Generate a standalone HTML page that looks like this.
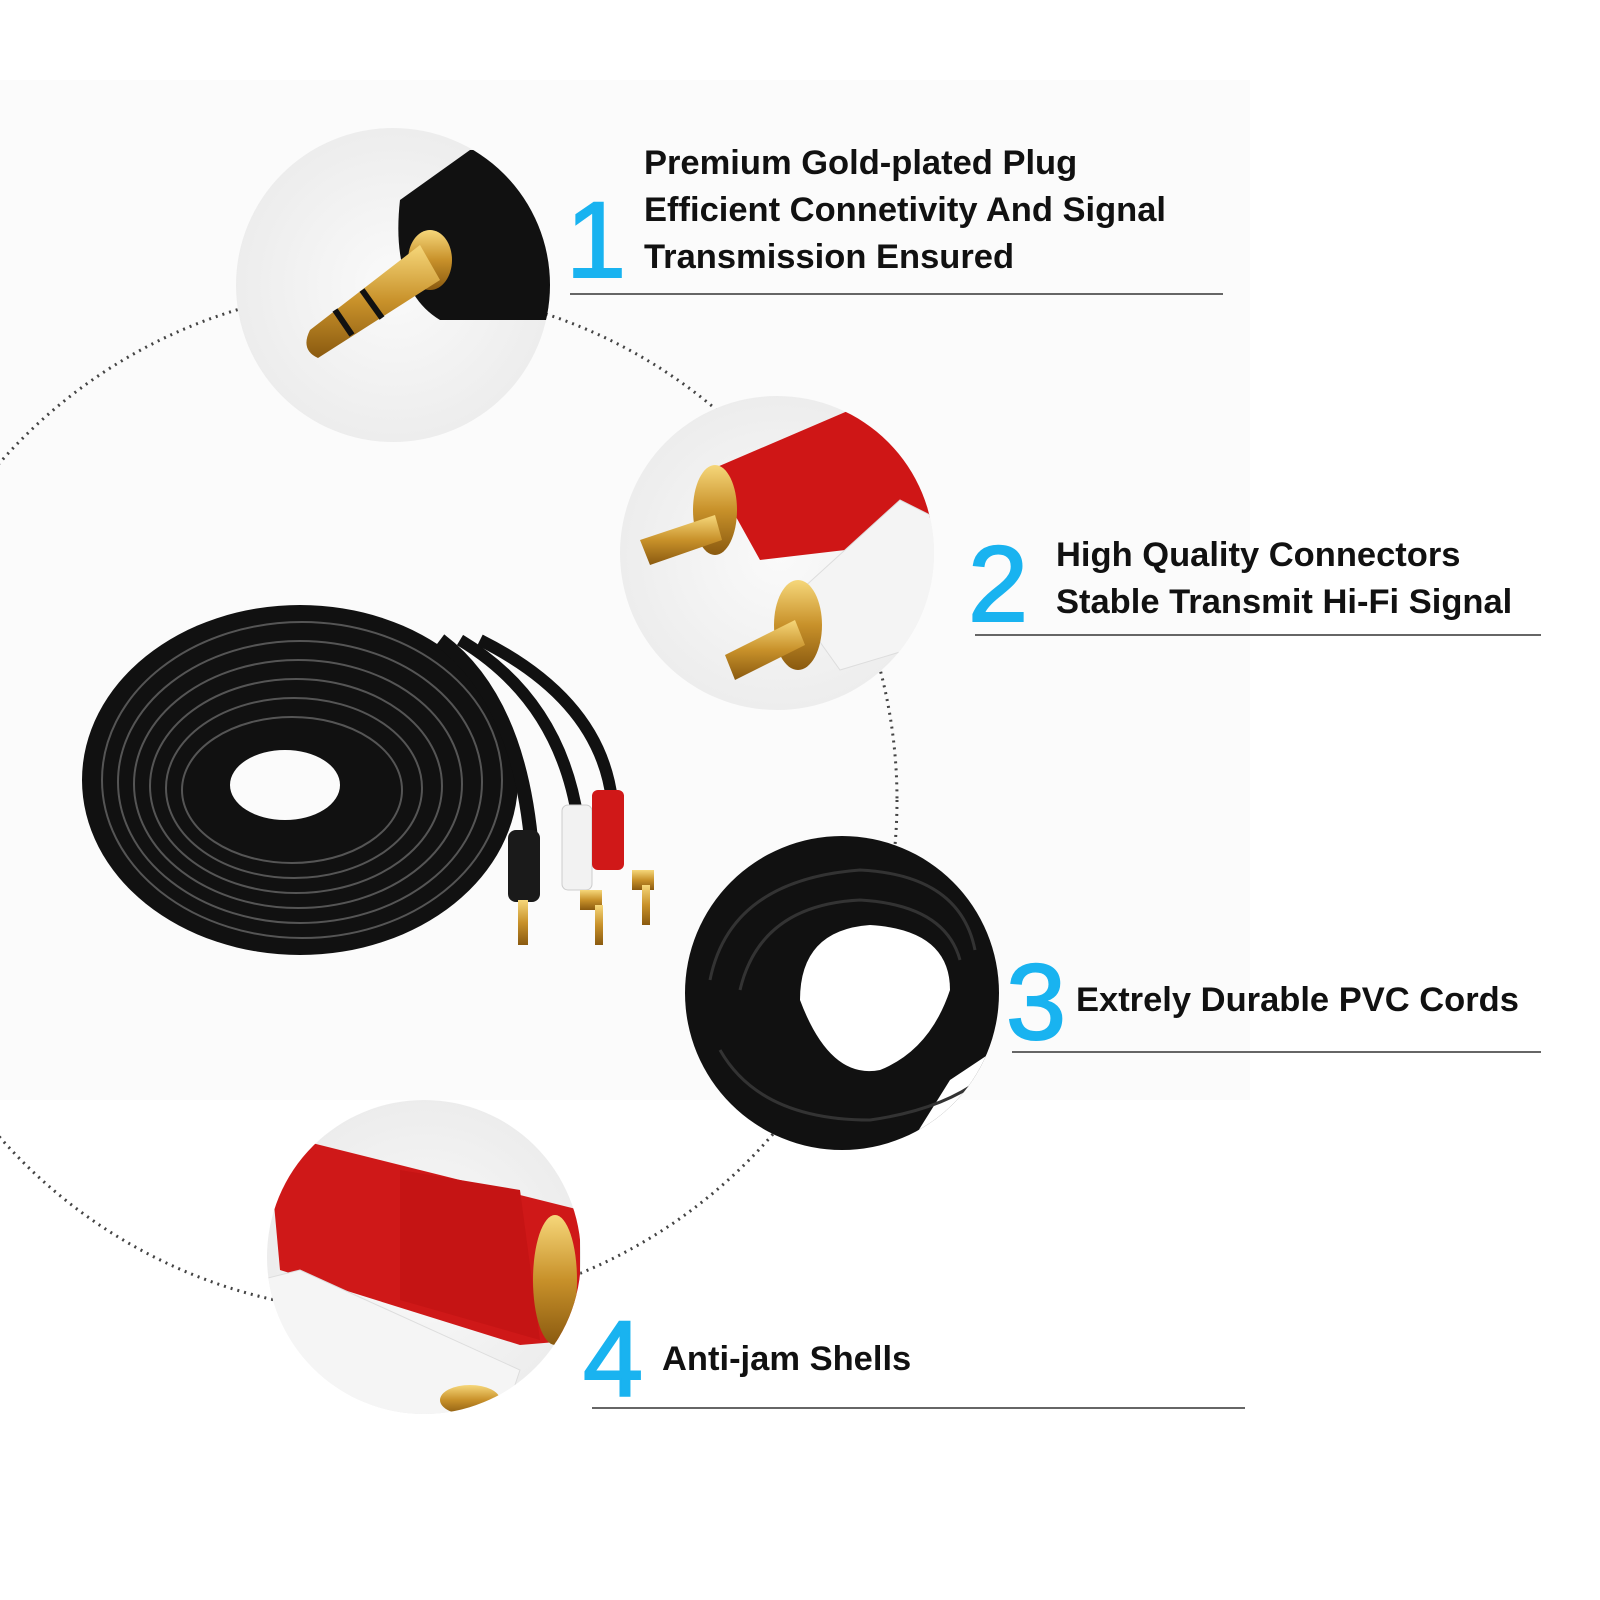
<!DOCTYPE html>
<html><head><meta charset="utf-8"><style>
html,body{margin:0;padding:0;background:#fff;}
.wrap{position:relative;width:1600px;height:1600px;overflow:hidden;background:#fff;font-family:"Liberation Sans",sans-serif;}
.t{position:absolute;font-weight:bold;font-size:34.5px;color:#111;line-height:47px;white-space:nowrap;}
.n{position:absolute;color:#19b3f0;font-size:108px;line-height:1;font-weight:normal;-webkit-text-stroke:2px #19b3f0;}
.l{position:absolute;height:2px;background:#666;}
</style></head><body><div class="wrap">
<svg width="1600" height="1600" style="position:absolute;left:0;top:0">
<defs>
<radialGradient id="bg1" cx="50%" cy="50%" r="50%"><stop offset="0" stop-color="#fafafa"/><stop offset="1" stop-color="#ececec"/></radialGradient>
<linearGradient id="gold" x1="0" y1="0" x2="0" y2="1"><stop offset="0" stop-color="#f6d77a"/><stop offset=".5" stop-color="#c8912a"/><stop offset="1" stop-color="#8a5a10"/></linearGradient>
<clipPath id="c1"><circle cx="393" cy="285" r="157"/></clipPath>
<clipPath id="c2"><circle cx="777" cy="553" r="157"/></clipPath>
<clipPath id="c3"><circle cx="842" cy="993" r="157"/></clipPath>
<clipPath id="c4"><circle cx="424" cy="1257" r="157"/></clipPath>
</defs>
<rect x="0" y="80" width="1250" height="1020" fill="#fbfbfb"/>
<circle cx="385" cy="800" r="512" fill="none" stroke="#444" stroke-width="3" stroke-dasharray="2 5"/>
<!-- coil -->
<ellipse cx="300" cy="780" rx="218" ry="175" fill="#111"/>
<g fill="none" stroke="#555" stroke-width="2">
<ellipse cx="302" cy="780" rx="200" ry="158"/>
<ellipse cx="300" cy="782" rx="182" ry="141"/>
<ellipse cx="298" cy="784" rx="164" ry="124"/>
<ellipse cx="296" cy="786" rx="146" ry="107"/>
<ellipse cx="294" cy="788" rx="128" ry="90"/>
<ellipse cx="292" cy="790" rx="110" ry="73"/>
</g>
<ellipse cx="285" cy="785" rx="55" ry="35" fill="#fbfbfb"/>
<g fill="none" stroke="#111">
<path d="M440 640 Q520 700 532 850" stroke-width="14"/>
<path d="M460 640 Q560 700 578 820" stroke-width="12"/>
<path d="M480 640 Q600 700 612 800" stroke-width="12"/>
</g>
<rect x="508" y="830" width="32" height="72" rx="8" fill="#1a1a1a"/>
<rect x="518" y="900" width="10" height="45" fill="url(#gold)"/>
<rect x="562" y="805" width="30" height="85" rx="6" fill="#f2f2f2" stroke="#ccc"/>
<rect x="592" y="790" width="32" height="80" rx="6" fill="#d01818"/>
<rect x="580" y="890" width="22" height="20" fill="url(#gold)"/><rect x="595" y="905" width="8" height="40" fill="url(#gold)"/>
<rect x="632" y="870" width="22" height="20" fill="url(#gold)"/><rect x="642" y="885" width="8" height="40" fill="url(#gold)"/>
<!-- circle 1 -->
<g clip-path="url(#c1)">
<rect x="230" y="120" width="330" height="330" fill="url(#bg1)"/>
<path d="M400 200 L470 150 L560 150 L560 320 L440 320 Q390 290 400 200Z" fill="#111"/>
<ellipse cx="430" cy="260" rx="22" ry="30" fill="url(#gold)"/>
<path d="M420 245 L310 330 Q300 350 318 358 L440 280Z" fill="url(#gold)"/>
<path d="M362 290 L382 318" stroke="#111" stroke-width="6"/>
<path d="M335 310 L352 335" stroke="#111" stroke-width="6"/>
</g>
<!-- circle 2 -->
<g clip-path="url(#c2)">
<rect x="610" y="390" width="340" height="330" fill="url(#bg1)"/>
<path d="M710 470 L850 410 L930 430 L930 540 L760 560Z" fill="#cf1616"/>
<ellipse cx="715" cy="510" rx="22" ry="45" fill="url(#gold)"/>
<path d="M640 540 L715 515 L722 540 L650 565Z" fill="url(#gold)"/>
<path d="M790 600 L900 500 L940 520 L940 640 L840 670Z" fill="#f4f4f4" stroke="#ddd"/>
<ellipse cx="798" cy="625" rx="24" ry="45" fill="url(#gold)"/>
<path d="M725 655 L795 620 L805 645 L735 680Z" fill="url(#gold)"/>
</g>
<!-- circle 3 -->
<g clip-path="url(#c3)">
<rect x="680" y="830" width="330" height="330" fill="#111"/>
<path d="M800 1000 Q800 930 870 925 Q950 930 950 990 Q930 1050 880 1070 Q830 1080 800 1000Z" fill="#fff"/>
<path d="M950 1080 L1010 1040 L1010 1160 L900 1160Z" fill="#fff"/>
<g fill="none" stroke="#333" stroke-width="3">
<path d="M710 980 Q730 880 860 870 Q960 875 975 950"/>
<path d="M740 990 Q760 905 860 900 Q945 905 960 960"/>
<path d="M720 1050 Q760 1120 870 1120 Q940 1110 980 1080"/>
</g>
</g>
<!-- circle 4 -->
<g clip-path="url(#c4)">
<rect x="260" y="1095" width="330" height="330" fill="url(#bg1)"/>
<path d="M270 1160 L300 1140 L580 1210 L580 1340 L520 1345 L280 1270Z" fill="#cf1818"/>
<path d="M400 1170 L520 1190 L540 1340 L400 1300Z" fill="#c51414"/>
<ellipse cx="555" cy="1280" rx="22" ry="65" fill="url(#gold)"/>
<path d="M260 1280 L300 1270 L520 1370 L500 1430 L260 1430Z" fill="#f5f5f5" stroke="#ddd"/>
<ellipse cx="470" cy="1400" rx="30" ry="15" fill="url(#gold)"/>
</g>
</svg>
<div class="n" style="left:566px;top:186px">1</div>
<div class="t" style="left:644px;top:140px">Premium Gold-plated Plug<br>Efficient Connetivity And Signal<br>Transmission Ensured</div>
<div class="l" style="left:570px;top:293px;width:653px"></div>
<div class="n" style="left:968px;top:530px">2</div>
<div class="t" style="left:1056px;top:532px">High Quality Connectors<br>Stable Transmit Hi-Fi Signal</div>
<div class="l" style="left:975px;top:634px;width:566px"></div>
<div class="n" style="left:1006px;top:948px">3</div>
<div class="t" style="left:1076px;top:977px">Extrely Durable PVC Cords</div>
<div class="l" style="left:1012px;top:1051px;width:529px"></div>
<div class="n" style="left:583px;top:1305px">4</div>
<div class="t" style="left:662px;top:1336px">Anti-jam Shells</div>
<div class="l" style="left:592px;top:1407px;width:653px"></div>
</div></body></html>
